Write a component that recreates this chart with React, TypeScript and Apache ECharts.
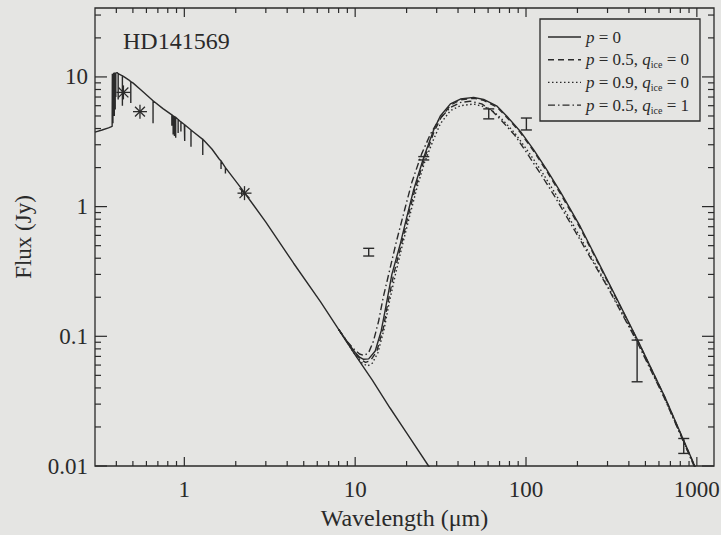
import React, { useEffect, useRef } from 'react';
import * as echarts from 'echarts';

// ---- axis ranges & ticks ----
const X_MIN = 0.3;
const X_MAX = 1260;
const Y_MIN = 0.01;
const Y_MAX = 34;
const X_MAJOR = [1, 10, 100, 1000];
const X_MINOR = [0.4, 0.5, 0.6, 0.7, 0.8, 0.9, 2, 3, 4, 5, 6, 7, 8, 9, 20, 30, 40, 50, 60, 70, 80, 90, 200, 300, 400, 500, 600, 700, 800, 900];
const Y_MAJOR = [0.01, 0.1, 1, 10];
const Y_MINOR = [0.02, 0.03, 0.04, 0.05, 0.06, 0.07, 0.08, 0.09, 0.2, 0.3, 0.4, 0.5, 0.6, 0.7, 0.8, 0.9, 2, 3, 4, 5, 6, 7, 8, 9, 20, 30];

// ---- stellar photosphere (continuum) [wavelength um, flux Jy] ----
const PHOT_CONT: number[][] = [
  [0.3, 3.75], [0.33, 3.9], [0.36, 4.05], [0.378, 4.15], [0.379, 10.6], [0.404, 10.8], [0.44, 10.1],
  [0.472, 9.5], [0.5, 9.0], [0.56, 7.9], [0.66, 6.5], [0.75, 5.7], [0.886, 4.9], [1.0, 4.3],
  [1.15, 3.7], [1.3, 3.25], [1.45, 2.78], [1.6, 2.33], [2.25, 1.28], [3.0, 0.76], [4.36, 0.366],
  [6.26, 0.185], [8, 0.113], [10, 0.072], [12.6, 0.046], [16, 0.028], [20, 0.018], [26.9, 0.01],
  [32, 0.0071],
];
// absorption lines [wavelength, continuum, dip]
const PHOT_LINES: number[][] = [
  [0.382, 10.6, 4.4], [0.385, 10.6, 6.0], [0.389, 10.7, 5.0], [0.394, 10.7, 5.6], [0.397, 10.7, 7.0],
  [0.41, 10.6, 6.7], [0.434, 10.2, 6.0], [0.486, 9.2, 6.3], [0.656, 6.55, 4.4], [0.845, 5.1, 4.2],
  [0.86, 5.0, 3.6], [0.875, 4.95, 3.5], [0.89, 4.88, 3.4], [0.92, 4.7, 3.7], [0.955, 4.5, 3.8],
  [1.005, 4.28, 3.2], [1.094, 3.9, 2.9], [1.282, 3.3, 2.5], [1.64, 2.25, 1.95], [1.74, 2.0, 1.8],
  [2.166, 1.37, 1.22],
];

// ---- disk models ----
const MODEL_P0: number[][] = [
  [8, 0.113], [9, 0.09], [10, 0.075], [10.6, 0.069], [11.2, 0.0665], [12.0, 0.067], [13.1, 0.077],
  [14.2, 0.11], [15.0, 0.16], [16.4, 0.3], [18.4, 0.52], [20, 0.82], [22, 1.35], [25.2, 2.4],
  [28.8, 3.9], [31.5, 5.0], [36.1, 6.2], [41.3, 6.75], [49.4, 6.95], [56.5, 6.7], [67.7, 5.95],
  [77.5, 4.95], [92.7, 3.8], [111, 2.74], [133, 1.9], [159, 1.3], [208, 0.7], [300, 0.27],
  [448, 0.095], [650, 0.034], [960, 0.0104], [1050, 0.008],
];
const MODEL_P05: number[][] = [
  [8, 0.113], [9, 0.09], [10, 0.074], [10.8, 0.066], [11.5, 0.063], [12.3, 0.065], [13.4, 0.077],
  [14.6, 0.115], [15.4, 0.17], [16.8, 0.3], [18.7, 0.52], [20.3, 0.82], [22.3, 1.33], [25.4, 2.33],
  [29, 3.8], [31.8, 4.85], [36.1, 6.05], [41.3, 6.65], [49.4, 6.85], [56.5, 6.6], [67.7, 5.85],
  [77.5, 4.85], [92.7, 3.72], [111, 2.67], [133, 1.85], [159, 1.26], [208, 0.68], [300, 0.265],
  [448, 0.094], [650, 0.0337], [960, 0.0103], [1050, 0.008],
];
const MODEL_P09: number[][] = [
  [8, 0.113], [9, 0.089], [10, 0.072], [11, 0.062], [11.8, 0.059], [12.6, 0.062], [13.6, 0.075],
  [14.8, 0.115], [15.8, 0.18], [17.2, 0.3], [19, 0.52], [21, 0.88], [23, 1.4], [25.5, 2.2],
  [28.5, 3.2], [31.5, 4.35], [36.1, 5.5], [41.3, 6.0], [49.4, 6.18], [56.5, 5.9], [63, 5.55],
  [72, 4.75], [86.2, 3.68], [103, 2.66], [124, 1.85], [148, 1.27], [194, 0.68], [300, 0.245],
  [448, 0.092], [650, 0.033], [960, 0.0102], [1050, 0.008],
];
const MODEL_ICE: number[][] = [
  [8, 0.113], [9, 0.091], [9.8, 0.08], [10.6, 0.073], [11.3, 0.071], [12.0, 0.075], [12.8, 0.092],
  [13.7, 0.13], [14.6, 0.2], [15.7, 0.3], [17.5, 0.55], [19.5, 0.95], [21.5, 1.55], [24.5, 2.55],
  [27.5, 3.6], [31, 4.7], [36, 5.8], [41.3, 6.35], [47, 6.5], [55, 6.2], [63, 5.5], [72, 4.6],
  [86, 3.55], [102, 2.55], [122, 1.78], [146, 1.22], [192, 0.66], [300, 0.24], [448, 0.09],
  [650, 0.0328], [960, 0.0101], [1050, 0.008],
];

// ---- observations ----
const PHOTOMETRY: number[][] = [[0.44, 7.6], [0.55, 5.4], [2.25, 1.27]];
// [wavelength, low, high]
const ERRBARS: number[][] = [
  [12.0, 0.416, 0.477], [25.2, 2.29, 2.43], [60.5, 4.75, 5.67], [100.5, 3.9, 4.82],
  [447, 0.0446, 0.0935], [838, 0.0125, 0.0163],
];

const TITLE = 'HD141569';
const X_NAME = 'Wavelength (μm)';
const Y_NAME = 'Flux (Jy)';
const LEGEND_LABELS = [
  '{i|p} = 0',
  '{i|p} = 0.5, {i|q}{s|ice} = 0',
  '{i|p} = 0.9, {i|q}{s|ice} = 0',
  '{i|p} = 0.5, {i|q}{s|ice} = 1',
];

const INK = '#2a2a2a';
const FONT = 'Liberation Serif';
const DASHES: any[] = ['solid', [6, 4], [1.5, 2.5], [7, 3, 1.5, 3]];

function buildPhotosphere(): number[][] {
  const pts: number[][] = PHOT_CONT.map((p) => [p[0], p[1], 0]);
  PHOT_LINES.forEach((l) => {
    pts.push([l[0], l[1], 1]);
    pts.push([l[0], l[2], 2]);
    pts.push([l[0], l[1], 3]);
  });
  pts.sort((a, b) => (a[0] - b[0]) || (a[2] - b[2]));
  return pts.map((p) => [p[0], p[1]]);
}

function logLabel(v: number): string {
  const e = Math.log10(v);
  const r = Math.round(e);
  if (Math.abs(e - r) > 1e-4) return '';
  return r >= 0 ? String(Math.pow(10, r)) : Math.pow(10, r).toFixed(-r);
}

export default function App() {
  const ref = useRef<HTMLDivElement>(null);
  useEffect(() => {
    if (!ref.current) return;
    const chart = echarts.init(ref.current, undefined, { renderer: 'svg' });
    const labelStyle = { fontSize: 23, fontFamily: FONT, color: INK };
    const models = [MODEL_P0, MODEL_P05, MODEL_P09, MODEL_ICE];

    const xTickData = [
      ...X_MAJOR.map((v) => [v, Y_MIN, 1]),
      ...X_MINOR.map((v) => [v, Y_MIN, 0]),
    ];
    const yTickData = [
      ...Y_MAJOR.map((v) => [X_MIN, v, 1]),
      ...Y_MINOR.map((v) => [X_MIN, v, 0]),
    ];
    const tickStyle = { stroke: INK, lineWidth: 1.2 };

    const legendGraphics: any[] = [
      {
        type: 'rect',
        shape: { x: 540, y: 19, width: 160, height: 102 },
        style: { fill: 'none', stroke: INK, lineWidth: 1.3 },
      },
    ];
    LEGEND_LABELS.forEach((lab, i) => {
      const y = 37 + i * 22.7;
      legendGraphics.push({
        type: 'line',
        shape: { x1: 548, y1: y, x2: 581, y2: y },
        style: { stroke: INK, lineWidth: 1.4, lineDash: i === 0 ? null : DASHES[i] },
      });
      legendGraphics.push({
        type: 'text',
        x: 586,
        y: y,
        style: {
          text: lab,
          fontSize: 17,
          fontFamily: FONT,
          fill: INK,
          verticalAlign: 'middle',
          lineHeight: 20,
          rich: {
            i: { fontStyle: 'italic', fontSize: 17, fontFamily: FONT, lineHeight: 20 },
            s: { fontSize: 10, fontFamily: FONT, lineHeight: 10, verticalAlign: 'bottom' },
          },
        },
      });
    });

    const option: any = {
      animation: false,
      backgroundColor: 'transparent',
      textStyle: { fontFamily: FONT },
      grid: {
        left: 95, right: 7, top: 8, bottom: 69,
        show: true, borderColor: INK, borderWidth: 1.3,
        outerBoundsMode: 'none',
      },
      xAxis: {
        type: 'log', logBase: 10, min: X_MIN, max: X_MAX,
        axisLine: { show: false }, axisTick: { show: false }, splitLine: { show: false },
        axisLabel: { ...labelStyle, interval: 0, margin: 12, formatter: logLabel },
        name: X_NAME, nameLocation: 'middle', nameGap: 40,
        nameTextStyle: { fontSize: 24, fontFamily: FONT, color: INK },
      },
      yAxis: {
        type: 'log', logBase: 10, min: Y_MIN, max: Y_MAX,
        axisLine: { show: false }, axisTick: { show: false }, splitLine: { show: false },
        axisLabel: { ...labelStyle, interval: 0, margin: 7, formatter: logLabel },
        name: Y_NAME, nameLocation: 'middle', nameGap: 60,
        nameTextStyle: { fontSize: 23, fontFamily: FONT, color: INK },
      },
      graphic: [
        {
          type: 'text', x: 123, y: 41,
          style: { text: TITLE, fontSize: 24, fontFamily: FONT, fill: INK, verticalAlign: 'middle' },
        },
        ...legendGraphics,
      ],
      series: [
        {
          type: 'line', data: buildPhotosphere(), symbol: 'none', clip: true,
          lineStyle: { color: INK, width: 1.4 },
        },
        ...models.map((m, i) => ({
          type: 'line', data: m, symbol: 'none', clip: true,
          lineStyle: { color: INK, width: 1.4, type: DASHES[i] },
        })),
        {
          type: 'custom', data: ERRBARS, encode: { x: 0, y: [1, 2] }, silent: true,
          renderItem: (_p: any, api: any) => {
            const x = api.value(0);
            const a = api.coord([x, api.value(1)]);
            const b = api.coord([x, api.value(2)]);
            const w = 5.5;
            const st = { stroke: INK, lineWidth: 1.4 };
            return {
              type: 'group',
              children: [
                { type: 'line', shape: { x1: a[0], y1: a[1], x2: b[0], y2: b[1] }, style: st },
                { type: 'line', shape: { x1: a[0] - w, y1: a[1], x2: a[0] + w, y2: a[1] }, style: st },
                { type: 'line', shape: { x1: b[0] - w, y1: b[1], x2: b[0] + w, y2: b[1] }, style: st },
              ],
            };
          },
        },
        {
          type: 'custom', data: PHOTOMETRY, encode: { x: 0, y: 1 }, silent: true,
          renderItem: (_p: any, api: any) => {
            const c = api.coord([api.value(0), api.value(1)]);
            const r = 7;
            const st = { stroke: INK, lineWidth: 1.3 };
            const children = [0, 45, 90, 135].map((deg) => {
              const t = (deg * Math.PI) / 180;
              const dx = r * Math.cos(t);
              const dy = r * Math.sin(t);
              return { type: 'line', shape: { x1: c[0] - dx, y1: c[1] - dy, x2: c[0] + dx, y2: c[1] + dy }, style: st };
            });
            return { type: 'group', children };
          },
        },
        {
          type: 'custom', data: xTickData, encode: { x: 0, y: 1 }, silent: true, z: 5,
          renderItem: (_p: any, api: any) => {
            const v = api.value(0);
            const len = api.value(2) ? 9 : 5;
            const b = api.coord([v, Y_MIN]);
            const t = api.coord([v, Y_MAX]);
            return {
              type: 'group',
              children: [
                { type: 'line', shape: { x1: b[0], y1: b[1], x2: b[0], y2: b[1] - len }, style: tickStyle },
                { type: 'line', shape: { x1: t[0], y1: t[1], x2: t[0], y2: t[1] + len }, style: tickStyle },
              ],
            };
          },
        },
        {
          type: 'custom', data: yTickData, encode: { x: 0, y: 1 }, silent: true, z: 5,
          renderItem: (_p: any, api: any) => {
            const v = api.value(1);
            const len = api.value(2) ? 12 : 6;
            const l = api.coord([X_MIN, v]);
            const r = api.coord([X_MAX, v]);
            return {
              type: 'group',
              children: [
                { type: 'line', shape: { x1: l[0], y1: l[1], x2: l[0] + len, y2: l[1] }, style: tickStyle },
                { type: 'line', shape: { x1: r[0], y1: r[1], x2: r[0] - len, y2: r[1] }, style: tickStyle },
              ],
            };
          },
        },
      ],
    };
    chart.setOption(option);
    return () => chart.dispose();
  }, []);

  return (
    <div
      style={{
        position: 'fixed', left: 0, top: 0, width: 721, height: 535,
        background: '#e5e5e3',
      }}
    >
      <div ref={ref} style={{ width: 721, height: 535 }} />
    </div>
  );
}
